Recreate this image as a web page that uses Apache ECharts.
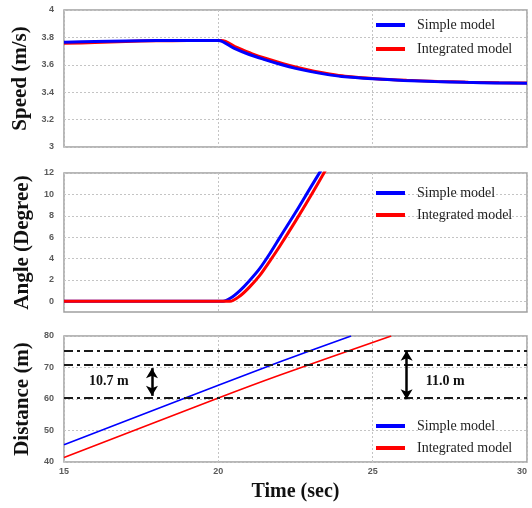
<!DOCTYPE html>
<html>
<head>
<meta charset="utf-8">
<script src="https://cdn.jsdelivr.net/npm/echarts@6/dist/echarts.min.js"></script>
<style>
  html, body { margin: 0; padding: 0; background: #fff; }
  #chart { width: 532px; height: 508px; }
</style>
</head>
<body>
<div id="chart"></div>
<script>
// Time axis (s)
const timeTicks = [15, 20, 25, 30];

// Speed (m/s) : [time, value]
const speedSimple = [
  [15, 3.765], [16, 3.770], [17, 3.774], [18, 3.777], [19, 3.778], [20, 3.778],
  [20.5, 3.722], [21, 3.675], [21.5, 3.638], [22, 3.604], [22.5, 3.574], [23, 3.550],
  [23.5, 3.530], [24, 3.515], [25, 3.498], [26, 3.486], [27, 3.478], [28, 3.472],
  [29, 3.468], [30, 3.466]
];
const speedIntegrated = [
  [15, 3.758], [16, 3.762], [17, 3.770], [18, 3.775], [19, 3.777], [20.1, 3.778],
  [20.6, 3.727], [21.1, 3.680], [21.6, 3.642], [22.1, 3.608], [22.6, 3.578], [23.1, 3.553],
  [23.6, 3.533], [24.1, 3.517], [25.1, 3.499], [26.1, 3.487], [27.1, 3.479], [28.1, 3.473],
  [29.1, 3.469], [30, 3.467]
];

// Steering angle (deg)
const angleSimple = [
  [15, 0], [20, 0], [20.15, 0], [20.4, 0.3], [20.7, 1.0], [21, 1.9], [21.35, 3.1],
  [21.7, 4.6], [22, 6.0], [22.5, 8.3], [23, 10.7], [23.4, 12.6]
];
const angleIntegrated = [
  [15, 0], [20, 0], [20.38, 0], [20.7, 0.5], [21, 1.3], [21.35, 2.45],
  [21.7, 3.9], [22, 5.2], [22.5, 7.5], [23, 9.9], [23.5, 12.4]
];
const angleTicks = [0, 2, 4, 6, 8, 10, 12];

// Travelled distance (m)
const distSimple = [[15, 45.5], [20, 64.4], [22, 71.8], [24.3, 80]];
const distIntegrated = [[15, 41.4], [20, 60.3], [22, 67.6], [25.6, 80]];

// Reference levels and gap annotations on the distance panel
const refLevels = [75.3, 71.0, 60.3];
const gapLeft = { t: 17.85, from: 69.8, to: 61.0, text: '10.7 m', labelAt: [16.45, 65.5] };
const gapRight = { t: 26.1, from: 75.3, to: 59.9, text: '11.0 m', labelAt: [27.35, 65.5] };

const BLUE = '#0000ff';
const RED = '#ff0000';
const serif = '"Liberation Serif", "DejaVu Serif", serif';
const sans = '"Liberation Sans", Arial, sans-serif';

const grids = [
  { left: 64, top: 10, width: 463, height: 137 },
  { left: 64, top: 173, width: 463, height: 139 },
  { left: 64, top: 336, width: 463, height: 126 }
].map(g => Object.assign({ show: true, borderColor: '#a0a0a0', borderWidth: 1.5, backgroundColor: 'transparent' }, g));

const dotted = { show: true, lineStyle: { color: '#c4c4c4', type: [2, 2], width: 1 } };
const tickText = { color: '#5a5a5a', fontFamily: sans, fontWeight: 'bold', fontSize: 9 };

function xAxisFor(i, showLabels) {
  return {
    type: 'value', gridIndex: i, min: 15, max: 30, interval: 5,
    axisLine: { show: false }, axisTick: { show: false },
    splitLine: dotted,
    axisLabel: Object.assign({ show: showLabels, margin: 5, alignMaxLabel: 'right' }, tickText),
    name: showLabels ? 'Time (sec)' : '',
    nameLocation: 'middle', nameGap: 20,
    nameTextStyle: { fontFamily: serif, fontWeight: 'bold', fontSize: 20, color: '#111' }
  };
}

function yAxisFor(i, name, extra) {
  return Object.assign({
    type: 'value', gridIndex: i,
    axisLine: { show: false }, axisTick: { show: false },
    splitLine: dotted,
    axisLabel: Object.assign({ margin: 10 }, tickText),
    name: name, nameLocation: 'middle', nameGap: 27,
    nameTextStyle: { fontFamily: serif, fontWeight: 'bold', fontSize: 21, color: '#111' }
  }, extra);
}

function line(name, xi, data, color, width) {
  return {
    name: name, type: 'line', xAxisIndex: xi, yAxisIndex: xi, data: data,
    showSymbol: false, smooth: 0.3, color: color,
    lineStyle: { color: color, width: width }, clip: true, animation: false
  };
}

function legendAt(top, gap) {
  return {
    data: ['Simple model', 'Integrated model'], orient: 'vertical',
    left: 376, top: top, padding: 0, itemGap: gap, itemWidth: 29, itemHeight: 4,
    icon: 'rect', selectedMode: false,
    textStyle: { fontFamily: serif, fontSize: 14, color: '#222', lineHeight: 14, padding: [0, 0, 0, 7] }
  };
}

const option = {
  backgroundColor: '#fff',
  animation: false,
  grid: grids,
  legend: [legendAt(18, 10), legendAt(186, 8), legendAt(419, 8)],
  xAxis: [xAxisFor(0, false), xAxisFor(1, false), xAxisFor(2, true)],
  yAxis: [
    yAxisFor(0, 'Speed (m/s)', { min: 3, max: 4, interval: 0.2 }),
    yAxisFor(1, 'Angle (Degree)', {
      min: -1, max: 12,
      axisLabel: Object.assign({ margin: 10, customValues: angleTicks }, tickText),
      axisTick: { show: false, customValues: angleTicks }
    }),
    yAxisFor(2, 'Distance (m)', { min: 40, max: 80, interval: 10 })
  ],
  series: [
    line('Integrated model', 0, speedIntegrated, RED, 3),
    line('Simple model', 0, speedSimple, BLUE, 3),
    line('Simple model', 1, angleSimple, BLUE, 3),
    line('Integrated model', 1, angleIntegrated, RED, 3),
    line('Simple model', 2, distSimple, BLUE, 1.6),
    line('Integrated model', 2, distIntegrated, RED, 1.6),
    {
      // reference levels, gap arrows and their labels
      type: 'line', xAxisIndex: 2, yAxisIndex: 2, data: [], silent: true,
      markLine: {
        silent: true, animation: false,
        symbol: ['none', 'none'],
        label: { show: false },
        data: refLevels.map(v => ({
          yAxis: v,
          lineStyle: { color: '#1a1a1a', width: 2, type: [9, 4, 3, 4] }
        })).concat([gapLeft, gapRight].map(g => [
          { coord: [g.t, g.from], symbol: 'arrow', symbolSize: [9, 10],
            lineStyle: { color: '#000', width: 2.5, type: 'solid' } },
          { coord: [g.t, g.to], symbol: 'arrow', symbolSize: [9, 10] }
        ]))
      },
      markPoint: {
        silent: true, animation: false,
        symbol: 'circle', symbolSize: 2,
        itemStyle: { color: 'rgba(0,0,0,0)' },
        label: {
          show: true, position: 'inside',
          fontFamily: serif, fontWeight: 'bold', fontSize: 14, color: '#111'
        },
        data: [gapLeft, gapRight].map(g => ({
          coord: g.labelAt, value: g.text,
          label: { formatter: g.text }
        }))
      }
    }
  ]
};

const chart = echarts.init(document.getElementById('chart'), null, { renderer: 'canvas' });
chart.setOption(option);
</script>
</body>
</html>
